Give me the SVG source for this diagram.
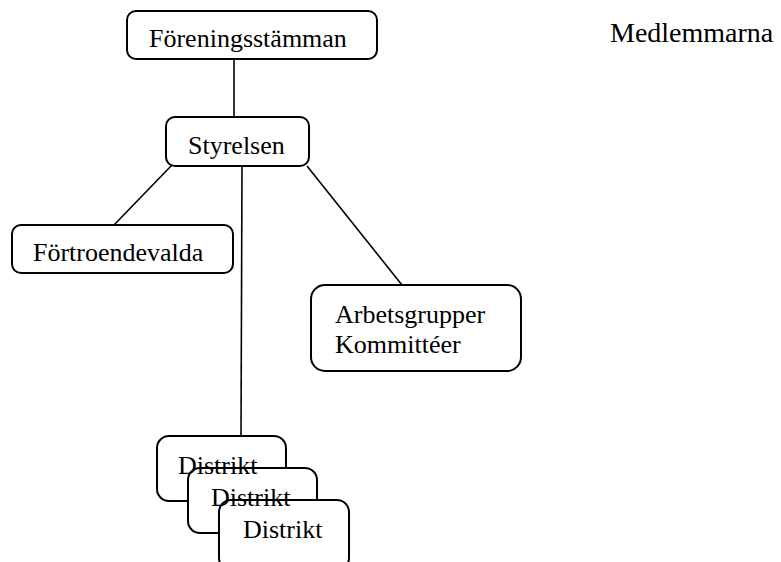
<svg xmlns="http://www.w3.org/2000/svg" width="781" height="562" viewBox="0 0 781 562">
<style>
.box{fill:#fff;stroke:#000;stroke-width:2}
.t{font-family:"Liberation Serif","Times New Roman",serif;font-size:26px;fill:#000}
.c{stroke:#000;stroke-width:1.6;fill:none}
</style>
<rect width="781" height="562" fill="#fff"/>
<g id="connectors">
<line class="c" x1="234" y1="59" x2="234" y2="117"/>
<line class="c" x1="172" y1="165" x2="114" y2="225"/>
<line class="c" x1="242" y1="166" x2="241" y2="436"/>
<line class="c" x1="307" y1="166" x2="402" y2="285"/>
</g>
<g id="foreningsstamman">
<rect class="box" x="127" y="11" width="250" height="48" rx="9"/>
<text class="t" x="149" y="47">Föreningsstämman</text>
</g>
<g id="medlemmarna">
<text class="t" x="610" y="42" style="font-size:28px">Medlemmarna</text>
</g>
<g id="styrelsen">
<rect class="box" x="166" y="117" width="143" height="49" rx="9"/>
<text class="t" x="188" y="154">Styrelsen</text>
</g>
<g id="fortroendevalda">
<rect class="box" x="12" y="225" width="221" height="48" rx="9"/>
<text class="t" x="33" y="261">Förtroendevalda</text>
</g>
<g id="arbetsgrupper">
<rect class="box" x="311" y="285" width="210" height="86" rx="14"/>
<text class="t" x="335" y="323">Arbetsgrupper</text>
<text class="t" x="335" y="353">Kommittéer</text>
</g>
<g id="distrikt1">
<rect class="box" x="157" y="436" width="129" height="65" rx="12"/>
</g>
<g id="distrikt2">
<rect class="box" x="188" y="468" width="129" height="65" rx="12"/>
</g>
<g id="distrikt3">
<rect class="box" x="219" y="500" width="130" height="70" rx="12"/>
</g>
<g id="distrikt-labels">
<text class="t" x="178" y="474">Distrikt</text>
<text class="t" x="211" y="506">Distrikt</text>
<text class="t" x="243" y="538">Distrikt</text>
</g>
</svg>
